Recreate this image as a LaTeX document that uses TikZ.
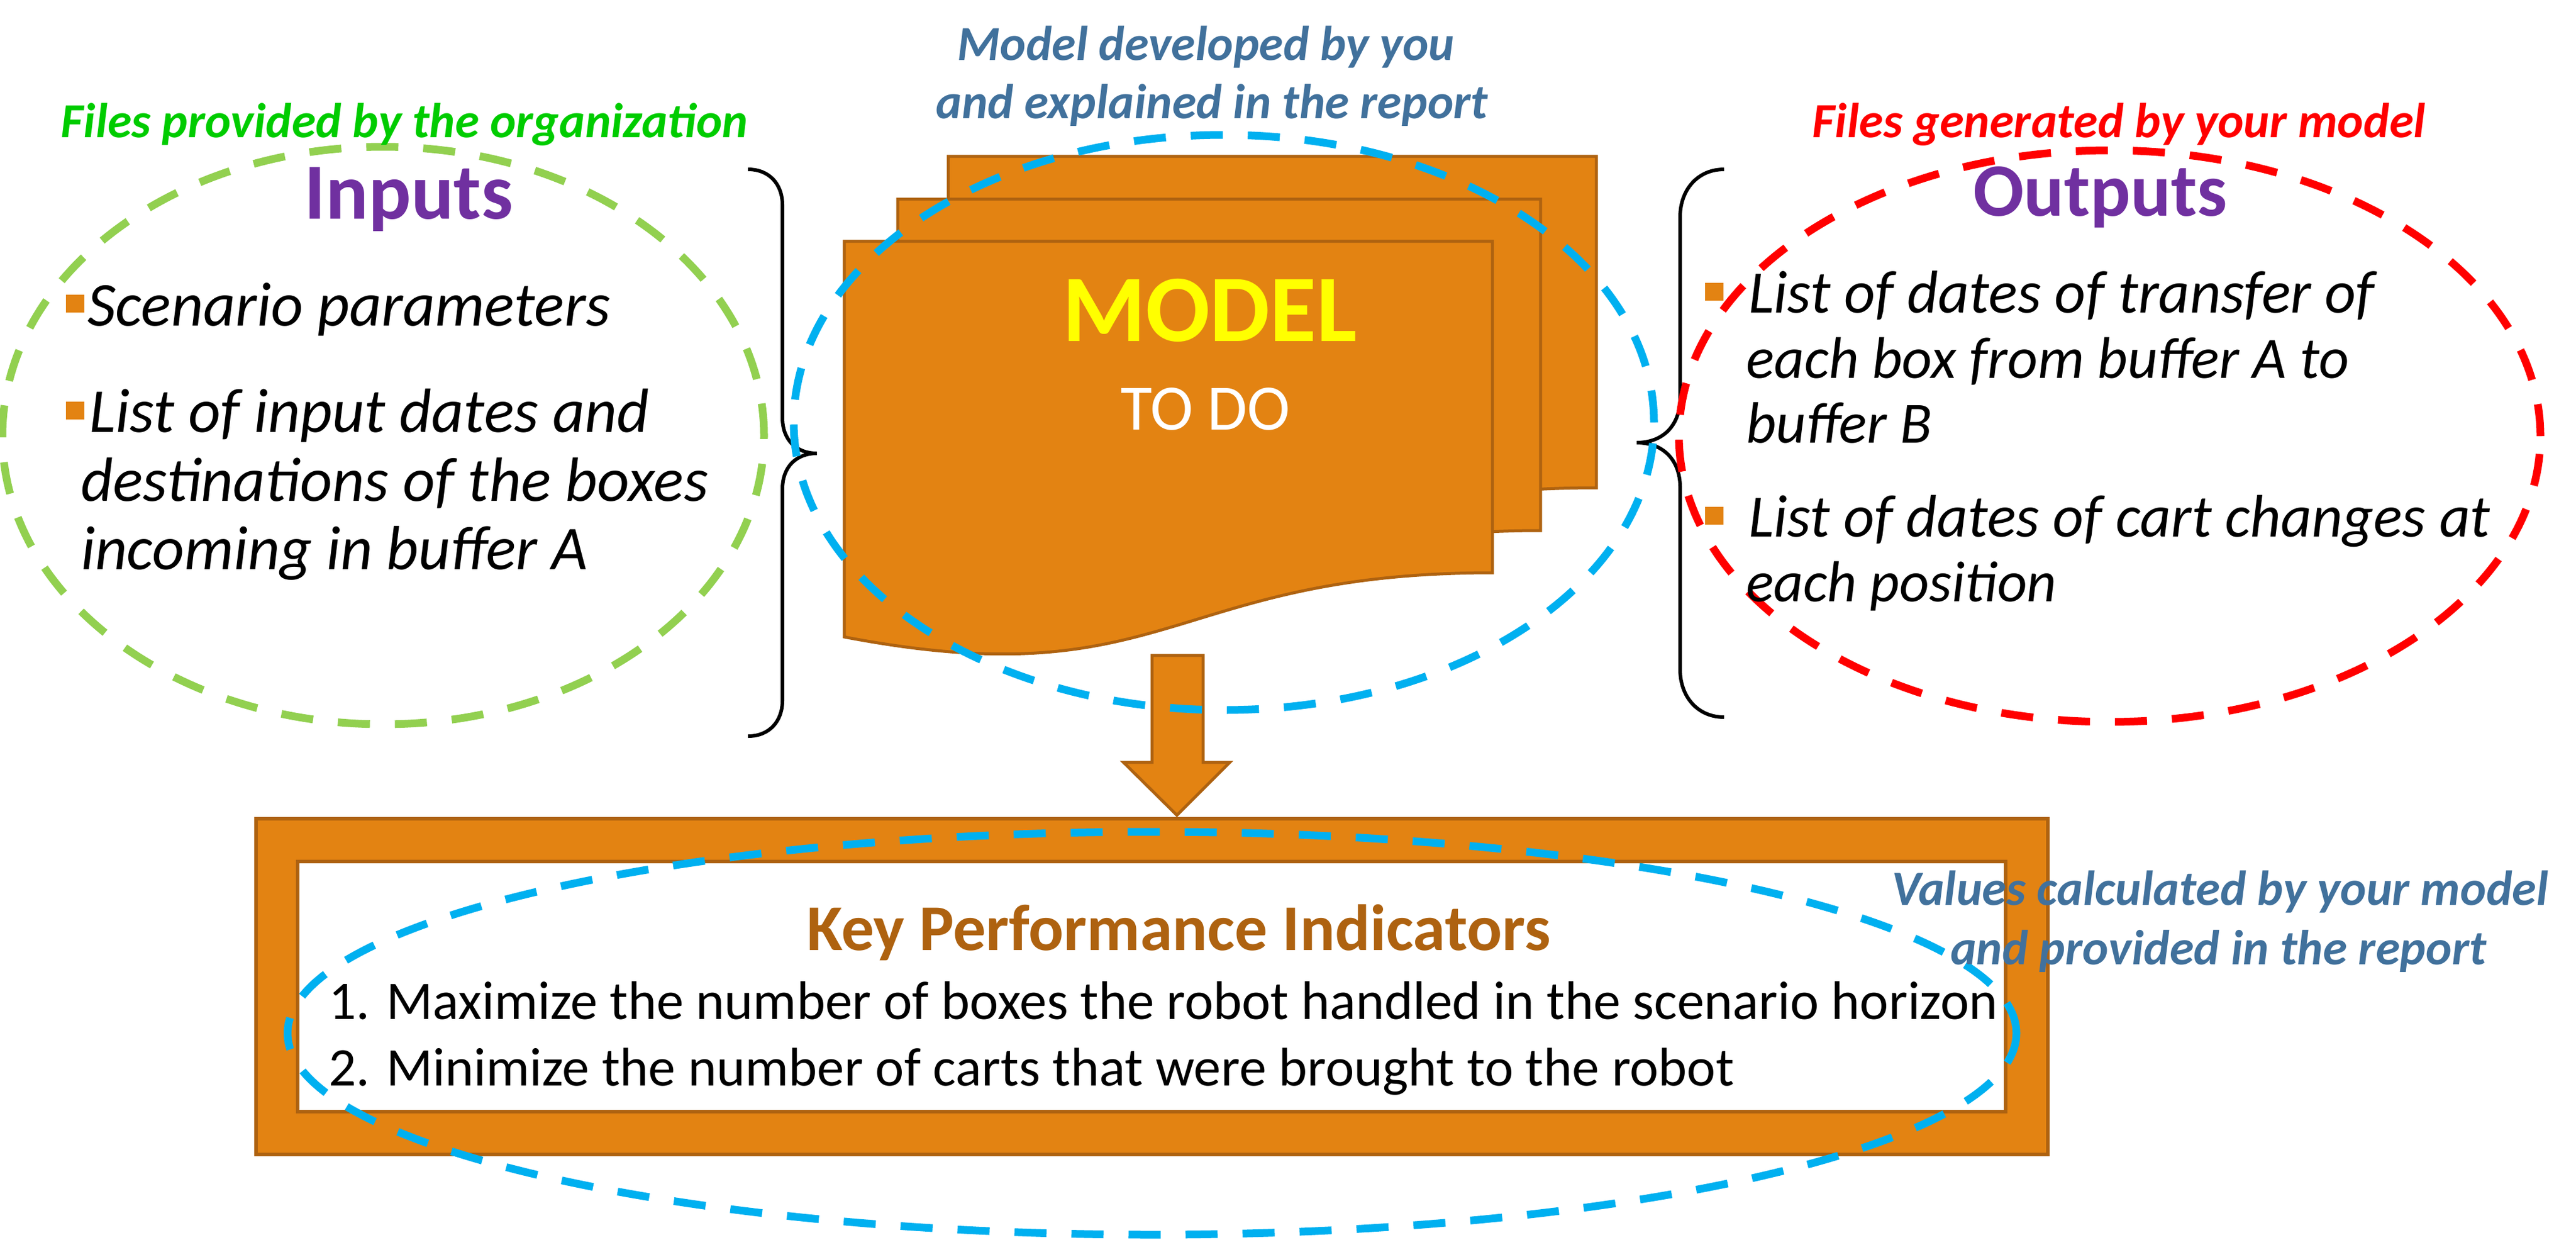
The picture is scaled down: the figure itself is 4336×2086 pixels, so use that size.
\documentclass[tikz,border=0pt]{standalone}
\usepackage{fontspec}
\usepackage{graphicx}
\setmainfont{Carlito}
\usetikzlibrary{shapes.geometric}
\definecolor{orfill}{HTML}{E38312}
\definecolor{orline}{HTML}{AE6210}
\definecolor{grtext}{HTML}{00CC00}
\definecolor{grell}{HTML}{92D050}
\definecolor{blell}{HTML}{00B0F0}
\definecolor{purp}{HTML}{7030A0}
\definecolor{steel}{HTML}{41719C}
\definecolor{redc}{HTML}{FF0000}
\definecolor{yel}{HTML}{FFFF00}
% set text scaled uniformly to a given width (in pt = px)
\newcommand{\fitw}[3]{\resizebox{#1pt}{!}{\fontsize{100}{100}\selectfont#2#3}}
\tikzset{
  lbl/.style={inner sep=0pt, outer sep=0pt, anchor=base},
  lblw/.style={inner sep=0pt, outer sep=0pt, anchor=base west},
  dashell/.style={ellipse, draw=#1, line width=13pt, dash pattern=on 54pt off 42pt, inner sep=0pt, outer sep=0pt},
  sheet/.style={fill=orfill, draw=orline, line width=5pt, line join=miter},
  brace/.style={draw=black, line width=6pt},
  bullet/.style={fill=orfill, draw=none, inner sep=0pt, minimum width=31pt, minimum height=30pt},
}
\begin{document}
\begin{tikzpicture}[x=1pt,y=-1pt]
\useasboundingbox (0,0) rectangle (4336,2086);

% braces
\draw[brace] (1259,285) .. controls (1295,285) and (1317,310) .. (1317,345) -- (1317,703)
  .. controls (1317,740) and (1340,763) .. (1375,763)
  .. controls (1340,763) and (1317,786) .. (1317,823) -- (1317,1179)
  .. controls (1317,1214) and (1295,1239) .. (1259,1239);
\draw[brace] (2902,285) .. controls (2857,285) and (2828,320) .. (2828,365) -- (2828,670)
  .. controls (2828,715) and (2800,745) .. (2755,745)
  .. controls (2800,745) and (2828,775) .. (2828,820) -- (2828,1127)
  .. controls (2828,1172) and (2857,1207) .. (2902,1207);

% model sheets (back to front)
\begin{scope}[shift={(1596,263)}]
  \draw[sheet] (0,0) -- (1091,0) -- (1091,558) .. controls (545,558) and (545,770) .. (0,666) -- cycle;
\end{scope}
\begin{scope}[shift={(1511,335)}]
  \draw[sheet] (0,0) -- (1082,0) -- (1082,558) .. controls (541,558) and (541,770) .. (0,666) -- cycle;
\end{scope}
\begin{scope}[shift={(1421,406)}]
  \draw[sheet] (0,0) -- (1091,0) -- (1091,558) .. controls (545,558) and (545,770) .. (0,666) -- cycle;
\end{scope}
\node[lbl, text=yel] (model) at (2036,574) {\fitw{496}{\bfseries}{MODEL}};
\node[lbl, text=white] (todo) at (2029,723) {\fitw{286}{}{TO DO}};

% block arrow
\coordinate (arrtop) at (1982,1103);
\coordinate (arrtip) at (1981,1372);
\draw[fill=orfill, draw=orline, line width=5pt, line join=miter]
  (1939,1103) -- (2025,1103) -- (2025,1283) -- (2070,1283) -- (arrtip) -- (1891,1283) -- (1939,1283) -- cycle;

% KPI frame
\node[fill=orfill, draw=orline, line width=6pt, inner sep=0pt, minimum width=3016pt, minimum height=565pt] (frame) at (1939,1660.5) {};
\node[fill=white, draw=orline, line width=6pt, inner sep=0pt, minimum width=2875pt, minimum height=421pt] (inner) at (1938.5,1660.5) {};
\node[lbl, text=orline] (kpi) at (1984,1599) {\fitw{1252}{\bfseries}{Key Performance Indicators}};
\node[lblw] (k1) at (553,1715) {\fitw{2810}{}{1. Maximize the number of boxes the robot handled in the scenario horizon}};
\node[lblw] (k2) at (553,1827) {\fitw{2366}{}{2. Minimize the number of carts that were brought to the robot}};

% dashed ellipses
\node[dashell=grell, minimum width=1282pt, minimum height=972pt] (inell) at (645,733) {};
\node[dashell=blell, minimum width=1448pt, minimum height=968pt] (modell) at (2060,711) {};
\node[dashell=redc, minimum width=1450pt, minimum height=962pt] (outell) at (3551,734) {};
\node[dashell=blell, minimum width=2910pt, minimum height=678pt] (kpiell) at (1939,1739) {};

% inputs
\node[lbl, text=grtext] (inann) at (681,231) {\fitw{1156}{\bfseries\itshape}{Files provided by the organization}};
\node[lbl, text=purp] (inputs) at (688,368) {\fitw{351}{\bfseries}{Inputs}};
\node[bullet] (ib1) at (126,511) {};
\node[lblw] (i1) at (147,548) {\fitw{880}{\itshape}{Scenario parameters}};
\node[bullet] (ib2) at (126,691) {};
\node[lblw] (i2a) at (150,727) {\fitw{943}{\itshape}{List of input dates and}};
\node[lblw] (i2b) at (136,843) {\fitw{1056}{\itshape}{destinations of the boxes}};
\node[lblw] (i2c) at (136,958) {\fitw{853}{\itshape}{incoming in buffer A}};

% model annotation
\node[lbl, text=steel] (mann1) at (2030,101) {\fitw{837}{\bfseries\itshape}{Model developed by you}};
\node[lbl, text=steel] (mann2) at (2040,199) {\fitw{929}{\bfseries\itshape}{and explained in the report}};

% outputs
\node[lbl, text=redc] (outann) at (3567,231) {\fitw{1032}{\bfseries\itshape}{Files generated by your model}};
\node[lbl, text=purp] (outputs) at (3535,363) {\fitw{428}{\bfseries}{Outputs}};
\node[bullet] (ob1) at (2885,491) {};
\node[lblw] (o1a) at (2943,526) {\fitw{1054}{\itshape}{List of dates of transfer of}};
\node[lblw] (o1b) at (2939,636) {\fitw{1015}{\itshape}{each box from buffer A to}};
\node[lblw] (o1c) at (2939,745) {\fitw{313}{\itshape}{buffer B}};
\node[bullet] (ob2) at (2885,868) {};
\node[lblw] (o2a) at (2943,903) {\fitw{1249}{\itshape}{List of dates of cart changes at}};
\node[lblw] (o2b) at (2939,1012) {\fitw{523}{\itshape}{each position}};

% values annotation
\node[lbl, text=steel] (vann1) at (3737,1523) {\fitw{1106}{\bfseries\itshape}{Values calculated by your model}};
\node[lbl, text=steel] (vann2) at (3734,1623) {\fitw{902}{\bfseries\itshape}{and provided in the report}};
\end{tikzpicture}
\end{document}
